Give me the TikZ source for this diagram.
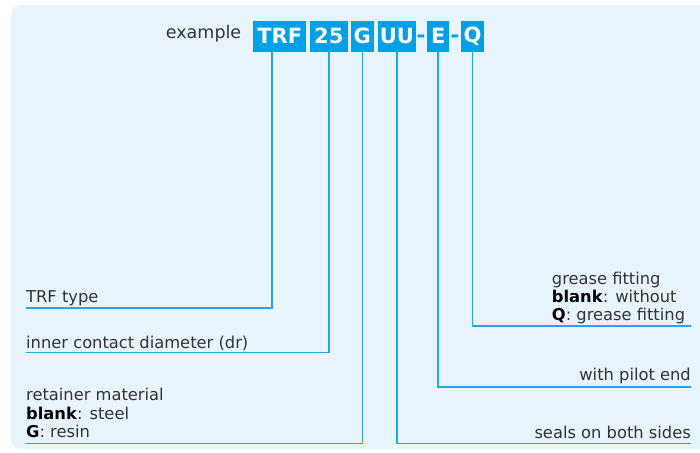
\documentclass[tikz,border=0pt]{standalone}
\usepackage{fontspec}
\setmainfont{DejaVu Sans}
\usepackage{xcolor}
\usetikzlibrary{positioning,calc}
\definecolor{codeclr}{RGB}{0,160,233}
\definecolor{leadclr}{RGB}{40,165,232}
\definecolor{bgclr}{RGB}{232,244,252}
\definecolor{txtclr}{RGB}{51,51,51}
\newcommand{\kw}[1]{\textcolor{black}{\textbf{#1}}}
\tikzset{
  codebox/.style={fill=codeclr, text=white, inner sep=0pt, minimum height=31pt,
    font=\fontsize{21}{21}\selectfont\bfseries},
  hyph/.style={text=codeclr, inner sep=0pt, anchor=base,
    font=\fontsize{21}{21}\selectfont\bfseries},
  lead/.style={draw=leadclr, line width=1.6pt},
  desc/.style={text=txtclr, inner sep=0pt, font=\fontsize{16.3}{18}\selectfont},
}
\begin{document}
\begin{tikzpicture}[x=1pt,y=-1pt]

\useasboundingbox (0,0) rectangle (700,452);
\clip (0,0) rectangle (700,452);

% Background panel
\fill[bgclr, rounded corners=10pt] (11,5) rectangle (730,449);

% Part number
\node[text=txtclr, inner sep=0pt, font=\fontsize{17.5}{20}\selectfont, anchor=base west] (ex) at (165.7,39) {example};
\foreach \nm/\cx/\w/\txt in {trf/279.7/52.7/TRF, num/328.8/37.7/25, ret/362.3/22.7/G,
    seal/396.8/37.7/UU, pilot/438.2/21.7/E, grease/472.5/23/Q}{
  \node[codebox, minimum width=\w pt] (\nm) at (\cx,36.2) {\txt};
}
\node[hyph] (hy1) at (421,42.5) {-};
\node[hyph] (hy2) at (455,42.5) {-};

% Leader ends
\coordinate (trfend)    at (26,307.7);
\coordinate (numend)    at (26,352.3);
\coordinate (retend)    at (26,443.3);
\coordinate (sealend)   at (691,443.3);
\coordinate (pilotend)  at (691,387);
\coordinate (greaseend) at (691,326);

% Leaders
\draw[lead] ([xshift=-8pt]trf.south) |- (trfend);
\draw[lead] (num.south) |- (numend);
\draw[lead] (ret.south) |- (retend);
\draw[lead] (seal.south) |- (sealend);
\draw[lead] (pilot.south) |- (pilotend);
\draw[lead] (grease.south) |- (greaseend);

% Left descriptions
\node[desc, anchor=base west] (trfd) at (26,302.3) {TRF type};
\node[desc, anchor=base west] (numd) at (26,348.3) {inner contact diameter (dr)};
\node[desc, anchor=base west] (retd1) at (26,400.7) {retainer material};
\node[desc, anchor=base west] (retd2) at (26,419.3) {\kw{blank}: steel};
\node[desc, anchor=base west] (retd3) at (26,437.7) {\kw{G}: resin};

% Right descriptions
\node[desc, anchor=base west] (gred1) at (551.7,284) {grease fitting};
\node[desc, anchor=base west] (gred2) at (551.7,302) {\kw{blank}: without};
\node[desc, anchor=base west] (gred3) at (551.7,320) {\kw{Q}: grease fitting};
\node[desc, anchor=base east] (pild) at (691,380.7) {with pilot end};
\node[desc, anchor=base east] (seald) at (691,438.3) {seals on both sides};

\end{tikzpicture}
\end{document}
